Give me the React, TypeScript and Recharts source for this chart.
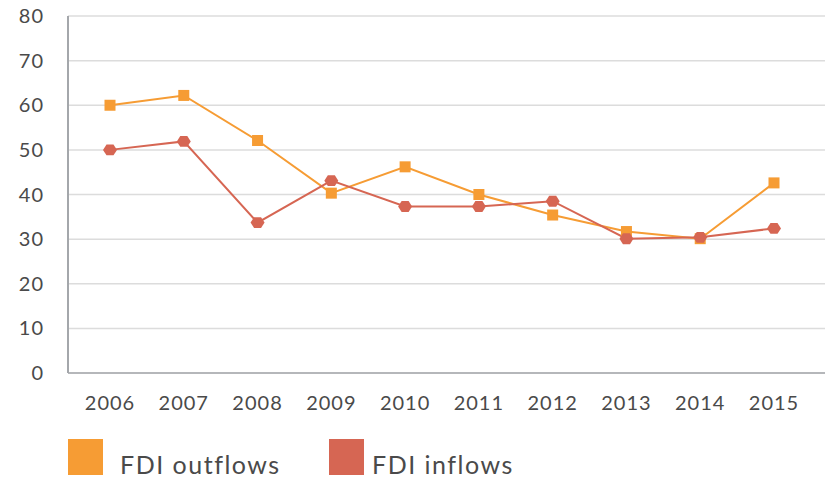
import { CartesianGrid, Legend, Line, LineChart, XAxis, YAxis } from "recharts";

const years = ["2006", "2007", "2008", "2009", "2010", "2011", "2012", "2013", "2014", "2015"];
const outflows = [60, 62.2, 52.1, 40.3, 46.2, 40.0, 35.4, 31.7, 30.1, 42.6];
const inflows = [50, 51.9, 33.7, 43.1, 37.3, 37.3, 38.5, 30.1, 30.4, 32.4];
const yTicks = [0, 10, 20, 30, 40, 50, 60, 70, 80];

const ORANGE = "#F69C34";
const RED = "#D66653";
const TEXT = "#4a4a4a";
const FONT = "Lato, 'Noto Sans', sans-serif";

const data = years.map((y, i) => ({ year: y, out: outflows[i], inn: inflows[i] }));

function SquareDot(props: any) {
	const { cx, cy } = props;
	if (cx == null || cy == null) return null;
	return <rect x={cx - 5.5} y={cy - 5.5} width={11} height={11} fill={ORANGE} />;
}

function HexDot(props: any) {
	const { cx, cy } = props;
	if (cx == null || cy == null) return null;
	const r = 7;
	const pts = [0, 60, 120, 180, 240, 300]
		.map((a) => {
			const t = (a * Math.PI) / 180;
			return `${cx + r * Math.cos(t)},${cy + r * 0.9 * Math.sin(t)}`;
		})
		.join(" ");
	return <polygon points={pts} fill={RED} />;
}

function LegendBox() {
	const item = (color: string, label: string, width: number, gap: number) => (
		<div style={{ display: "flex", alignItems: "flex-end", width }}>
			<div style={{ width: 35, height: 36, background: color, flexShrink: 0 }} />
			<span
				style={{
					marginLeft: gap,
					fontSize: 25,
					letterSpacing: 1.5,
					color: TEXT,
					lineHeight: "25px",
					marginBottom: -2,
					whiteSpace: "nowrap",
				}}
			>
				{label}
			</span>
		</div>
	);
	return (
		<div style={{ display: "flex", paddingTop: 26, paddingLeft: 68, fontFamily: FONT }}>
			{item(ORANGE, "FDI outflows", 261, 17)}
			{item(RED, "FDI inflows", 300, 8)}
		</div>
	);
}

export default function App() {
	return (
		<div style={{ position: "absolute", left: 0, top: 0, background: "#fff" }}>
			<LineChart width={825} height={479} data={data} margin={{ top: 16, right: 0, bottom: 0, left: 0 }}>
				<CartesianGrid vertical={false} stroke="#dcdcdc" strokeWidth={1.5} />
				<XAxis
					dataKey="year"
					height={40}
					padding={{ left: 42, right: 51 }}
					tickLine={false}
					tickSize={0}
					tickMargin={23}
					axisLine={{ stroke: "#a4a7ab", strokeWidth: 1.5 }}
					tick={{ fill: TEXT, fontSize: 20, fontFamily: FONT, letterSpacing: 1 }}
				/>
				<YAxis
					width={68}
					domain={[0, 80]}
					ticks={yTicks}
					tickLine={false}
					tickSize={0}
					tickMargin={24}
					axisLine={{ stroke: "#a4a7ab", strokeWidth: 2 }}
					tick={{ fill: TEXT, fontSize: 20, fontFamily: FONT, letterSpacing: 1 }}
				/>
				<Legend verticalAlign="bottom" height={66} content={() => <LegendBox />} />
				<Line
					dataKey="out"
					stroke={ORANGE}
					strokeWidth={2}
					dot={<SquareDot />}
					activeDot={false}
					isAnimationActive={false}
				/>
				<Line
					dataKey="inn"
					stroke={RED}
					strokeWidth={2}
					dot={<HexDot />}
					activeDot={false}
					isAnimationActive={false}
				/>
			</LineChart>
		</div>
	);
}
